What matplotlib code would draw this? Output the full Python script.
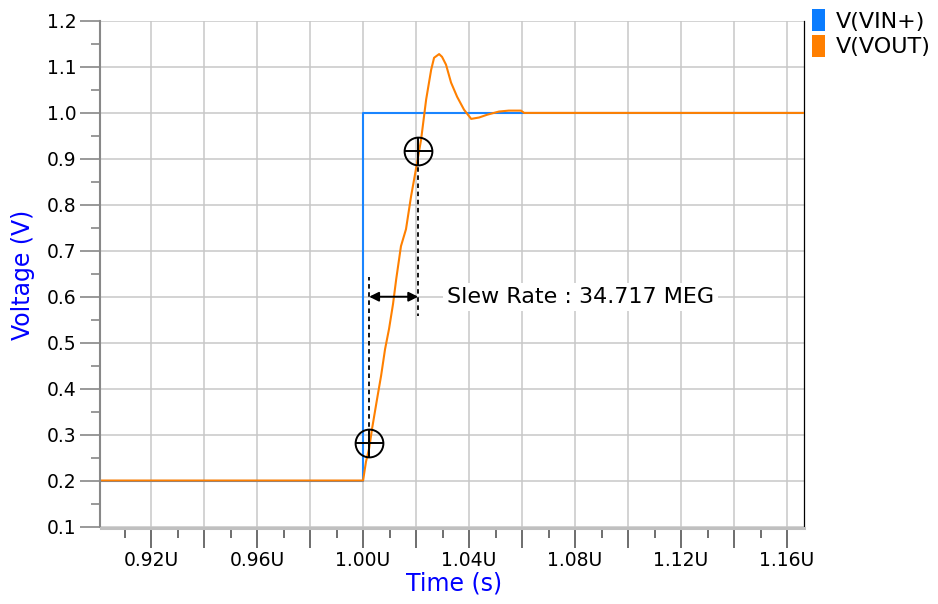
import matplotlib
matplotlib.use("Agg")
import matplotlib.pyplot as plt
from matplotlib.patches import Patch
from matplotlib.ticker import MultipleLocator, FixedLocator, FuncFormatter

# Data (time in microseconds)
vin_t = [0.90, 1.000, 1.000, 1.17]
vin_v = [0.20, 0.20, 1.00, 1.00]

vout_t = [0.90, 1.0000, 1.0004, 1.0011, 1.0023, 1.0034, 1.0053, 1.0068, 1.0083,
          1.0098, 1.0113, 1.0125, 1.0143, 1.0162, 1.0181, 1.0204, 1.0219, 1.0238,
          1.0257, 1.0268, 1.0287, 1.0298, 1.0313, 1.0332, 1.0355, 1.0381, 1.0408,
          1.0438, 1.0468, 1.0513, 1.0550, 1.0596, 1.0608, 1.17]
vout_v = [0.20, 0.200, 0.215, 0.241, 0.270, 0.313, 0.378, 0.428, 0.486,
          0.530, 0.584, 0.638, 0.710, 0.747, 0.818, 0.892, 0.942, 1.029,
          1.094, 1.120, 1.128, 1.122, 1.105, 1.066, 1.035, 1.007, 0.987,
          0.990, 0.996, 1.003, 1.005, 1.005, 1.000, 1.000]

# slew rate measurement points
sr_t = [1.0023, 1.0208]
sr_v = [0.282, 0.918]
sr_label = "Slew Rate : 34.717 MEG"

plt.rcParams['font.family'] = ['DejaVu Sans']

fig = plt.figure(figsize=(9.38, 6.04), dpi=100)
ax = fig.add_axes([101/938, 1 - 526.5/604, 703/938, 505.5/604])

ax.plot(vin_t, vin_v, color='#1a85ff', lw=1.5, zorder=3)
ax.plot(vout_t, vout_v, color='#ff8000', lw=1.5, zorder=4)

ax.set_xlim(0.9011, 1.1664)
ax.set_ylim(0.1, 1.2)

# x ticks: long every 0.02, short every 0.01, labels every 0.04
ax.xaxis.set_major_locator(MultipleLocator(0.02))
ax.xaxis.set_minor_locator(FixedLocator([0.91, 0.93, 0.95, 0.97, 0.99, 1.01, 1.03,
                                         1.05, 1.07, 1.09, 1.11, 1.13, 1.15]))


def xfmt(v, pos):
    k = round(v / 0.02)
    if k % 2 == 0:
        return f"{v:.2f}U"
    return ""


ax.xaxis.set_major_formatter(FuncFormatter(xfmt))
ax.yaxis.set_major_locator(MultipleLocator(0.1))
ax.yaxis.set_minor_locator(MultipleLocator(0.05))
ax.yaxis.set_major_formatter(FuncFormatter(lambda v, p: f"{v:.1f}"))

ax.tick_params(axis='x', which='major', length=14.5, width=1.2, color='#555555',
               labelsize=13.5, pad=2.5)
ax.tick_params(axis='x', which='minor', length=7, width=1.2, color='#555555')
ax.tick_params(axis='y', which='major', length=14.5, width=1.2, color='#888888',
               labelsize=13.5, pad=2)
ax.tick_params(axis='y', which='minor', length=6.5, width=1.2, color='#888888')

ax.grid(True, which='major', color='#c8c8c8', lw=1.1, zorder=0)
ax.set_axisbelow(True)

ax.spines['top'].set_visible(False)
ax.spines['right'].set_color('black')
ax.spines['right'].set_linewidth(0.9)
ax.spines['left'].set_color('#888888')
ax.spines['left'].set_linewidth(1.5)
ax.spines['left'].set_position(('outward', 1))
ax.spines['bottom'].set_color('#c0c0c0')
ax.spines['bottom'].set_linewidth(2.2)
ax.spines['bottom'].set_position(('outward', 1))

fig.text(23/938, 1 - 275/604, "Voltage (V)", color='blue', fontsize=17,
         rotation=90, ha='center', va='center')
ax.set_xlabel("Time (s)", color='blue', fontsize=17)
ax.xaxis.set_label_coords(0.502, -0.09)

# slew-rate cursors
ax.plot([sr_t[0], sr_t[0]], [sr_v[0], 0.642], color='black', ls=(0, (2.5, 2)), lw=1.3, zorder=5)
ax.plot([sr_t[1], sr_t[1]], [sr_v[1], 0.558], color='black', ls=(0, (2.5, 2)), lw=1.3, zorder=5)
ax.plot(sr_t, sr_v, 'o', ms=20, mfc='none', mec='black', mew=1.4, zorder=6)
ax.plot(sr_t, sr_v, '+', ms=20, mec='black', mew=1.4, zorder=6)
ax.annotate("", xy=(sr_t[0], 0.6), xytext=(sr_t[1], 0.6),
            arrowprops=dict(arrowstyle='<|-|>', color='black', lw=1.4,
                            shrinkA=0, shrinkB=0, mutation_scale=14), zorder=6)
ax.text(1.0317, 0.6, sr_label, fontsize=16, va='center', ha='left', zorder=6,
        bbox=dict(facecolor='white', edgecolor='none', pad=3))

handles = [Patch(facecolor='#0a7cff', edgecolor='none'),
           Patch(facecolor='#ff7f00', edgecolor='none')]
fig.legend(handles, ["V(VIN+)", "V(VOUT)"], loc='upper left',
           bbox_to_anchor=(812/938, 1 - 9/604), frameon=False, fontsize=16,
           handlelength=0.6, handleheight=1.15, handletextpad=0.45,
           labelspacing=0.15, borderpad=0, borderaxespad=0)

fig.savefig("out.png", dpi=100)
